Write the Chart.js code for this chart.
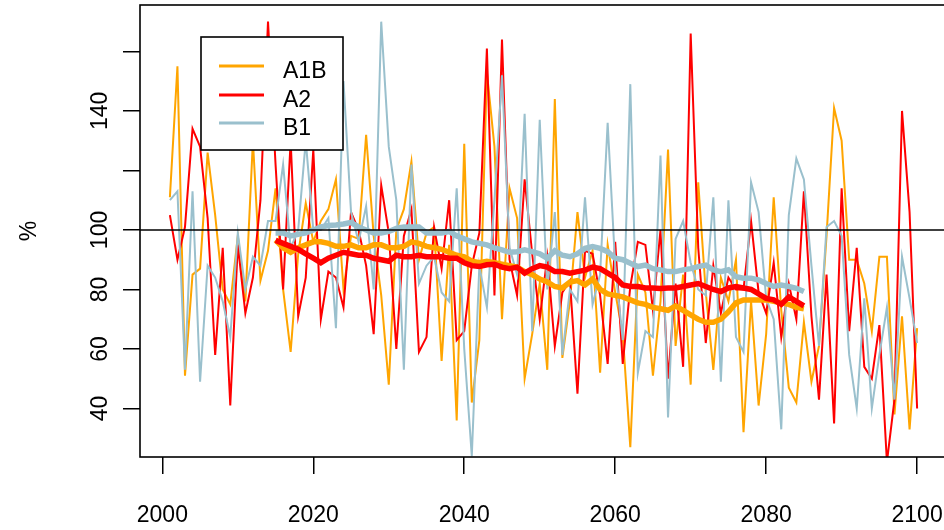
<!DOCTYPE html>
<html>
<head>
<meta charset="utf-8">
<script src="https://cdn.jsdelivr.net/npm/chart.js@4.4.1/dist/chart.umd.min.js"></script>
<style>
html, body { margin: 0; padding: 0; background: #fff; overflow: hidden; }
canvas { display: block; }
</style>
</head>
<body>
<canvas id="precipChart" width="947" height="530"></canvas>
<script>
// annual values, 2001-2100 (% of reference)
var firstYear = 2001;
var a1b = [111, 155, 51, 85, 87, 126, 105, 80, 75, 98, 76, 130, 83, 93, 114, 80, 59, 92, 109, 96,
           103, 107, 117, 80, 98, 97, 132, 98, 78, 48, 100, 107, 123, 90, 99, 101, 56, 95, 36, 129,
           42, 63, 153, 128, 70, 114, 104, 50, 65, 82, 53, 144, 57, 76, 106, 84, 93, 52, 95, 79,
           65, 27, 85, 79, 51, 76, 127, 61, 85, 48, 116, 79, 53, 84, 76, 90, 32, 76, 41, 65,
           111, 73, 47, 42, 69, 49, 61, 98, 141, 130, 90, 90, 82, 66, 91, 91, 38, 71, 33, 67];
var a2 = [105, 90, 101, 134, 128, 104, 58, 94, 41, 95, 72, 84, 110, 170, 122, 80, 130, 71, 84, 127,
          70, 86, 84, 74, 106, 100, 88, 65, 115, 99, 60, 98, 107, 59, 64, 101, 87, 110, 63, 66,
          88, 99, 161, 78, 164, 90, 78, 117, 92, 70, 91, 61, 79, 83, 45, 93, 92, 78, 55, 96,
          55, 81, 96, 95, 73, 100, 50, 82, 54, 166, 94, 62, 88, 72, 84, 80, 80, 103, 79, 72,
          89, 64, 82, 70, 113, 71, 43, 85, 35, 114, 66, 94, 54, 50, 68, 22, 43, 140, 106, 40];
var b1 = [110, 113, 53, 113, 49, 88, 84, 76, 64, 99, 80, 91, 88, 103, 103, 122, 94, 100, 130, 100,
          100, 104, 67, 150, 106, 96, 108, 80, 170, 128, 110, 53, 122, 82, 88, 91, 79, 76, 114, 60,
          24, 88, 74, 110, 152, 94, 85, 139, 66, 137, 80, 106, 58, 80, 76, 111, 75, 85, 136, 88,
          63, 149, 52, 66, 64, 125, 37, 97, 103, 89, 80, 78, 111, 49, 110, 64, 59, 116, 106, 77,
          70, 33, 105, 124, 117, 88, 61, 101, 103, 98, 58, 40, 77, 40, 58, 74, 43, 91, 77, 62];

// 30-year running means, 2015-2085
var firstMeanYear = 2015;
var a1bMean = [96.6, 94, 92.5, 94, 95, 96, 96, 95.5, 94.5, 94.5, 95, 94, 94, 95, 95, 94, 94, 94.5, 96, 95.5,
               94.5, 94, 93.5, 92.5, 91.5, 91, 89.5, 89, 89.5, 89, 88.5, 88, 87.5, 86, 85, 83.5, 82.5, 81, 80.5, 82.5,
               83, 81.5, 83.5, 80, 78.5, 78, 77.5, 76.5, 75.5, 75, 74, 73.5, 73, 74.5, 73, 71.5, 70, 69, 69, 70,
               72.5, 75.5, 76.5, 76.5, 76.5, 76.5, 76, 75.5, 75, 74, 73.5];
var a2Mean = [96.5, 95.5, 94.5, 93.5, 92, 90.5, 89, 90.5, 91.5, 92.5, 92, 91.5, 91.5, 90.5, 90, 89.5, 91.5, 91, 91, 91.5,
              91, 91, 91, 90.5, 90.5, 89, 88, 87.7, 88.3, 88.5, 87.5, 87, 87.5, 85.5, 87, 88, 87.5, 86, 86, 85.5,
              86, 86.5, 87.5, 87, 85.5, 84, 81.5, 81, 81, 80.5, 80.5, 80.3, 80.5, 80.5, 81, 81.5, 82, 81, 80, 79.3,
              80.5, 81, 80.5, 80, 78.5, 77, 76.5, 75, 77.5, 76, 74.5];
var b1Mean = [99, 99, 98, 98.5, 99, 100, 101, 101.5, 101.7, 102, 102.5, 101, 100, 99, 99, 99.5, 100.5, 101, 101, 101,
              99, 99, 99, 99.5, 98, 97, 96, 95.5, 95, 94, 93.3, 92.5, 92.7, 93.3, 92.7, 92, 90.5, 93, 91.5, 91,
              92, 93.8, 94.4, 93.8, 92.7, 90.5, 90, 88.8, 87.7, 88.2, 87, 86.6, 86, 86, 86.6, 87, 87.7, 88.2, 86.6, 86,
              86.6, 84.3, 83.8, 83.8, 83.2, 82, 81, 81.5, 81, 80.4, 79.3];

var xTicks = [2000, 2020, 2040, 2060, 2080, 2100];
var yTicks = [40, 60, 80, 100, 120, 140, 160];
var yLabelled = [40, 60, 80, 100, 140];
var refLevel = 100;

var FONT = 'Liberation Sans, Arial, Helvetica, sans-serif';

function toPoints(start, values) {
    return values.map(function (v, i) { return { x: start + i, y: v }; });
}

function lineSet(label, color, start, values, width, order) {
    return {
        label: label,
        data: toPoints(start, values),
        borderColor: color,
        backgroundColor: color,
        borderWidth: width,
        pointRadius: 0,
        tension: 0,
        fill: false,
        order: order
    };
}

// box, reference line and legend like the R original
var framePlugin = {
    id: 'frame',
    afterDatasetsDraw: function (chart) {
        var ctx = chart.ctx, a = chart.chartArea;
        var y = chart.scales.y.getPixelForValue(refLevel);
        ctx.save();
        ctx.strokeStyle = '#000';
        ctx.lineWidth = 1.6;
        ctx.beginPath();
        ctx.moveTo(a.left, y);
        ctx.lineTo(a.right, y);
        ctx.stroke();
        ctx.strokeRect(a.left, a.top, a.right - a.left, a.bottom - a.top);

        // legend
        var lx = 201, ly = 37, lw = 142, lh = 113;
        ctx.fillStyle = '#fff';
        ctx.fillRect(lx, ly, lw, lh);
        ctx.strokeRect(lx, ly, lw, lh);
        var rows = [66, 95, 123];
        ctx.font = '23px ' + FONT;
        ctx.textAlign = 'left';
        ctx.textBaseline = 'alphabetic';
        chart.data.datasets.slice(0, 3).forEach(function (ds, i) {
            ctx.strokeStyle = ds.borderColor;
            ctx.lineWidth = 3;
            ctx.beginPath();
            ctx.moveTo(219, rows[i]);
            ctx.lineTo(264, rows[i]);
            ctx.stroke();
            ctx.fillStyle = '#000';
            ctx.fillText(ds.label, 283, rows[i] + 12);
        });
        ctx.restore();
    },
    afterDraw: function (chart) {
        var ctx = chart.ctx, sy = chart.scales.y;
        ctx.save();
        ctx.fillStyle = '#000';
        ctx.font = '23px ' + FONT;
        ctx.textAlign = 'center';
        ctx.textBaseline = 'alphabetic';
        sy.ticks.forEach(function (t) {
            if (yLabelled.indexOf(t.value) < 0) return;
            ctx.save();
            ctx.translate(107, sy.getPixelForValue(t.value));
            ctx.rotate(-Math.PI / 2);
            ctx.fillText(String(t.value), 0, 0);
            ctx.restore();
        });
        ctx.translate(36, (chart.chartArea.top + chart.chartArea.bottom) / 2);
        ctx.rotate(-Math.PI / 2);
        ctx.fillText('%', 0, 0);
        ctx.restore();
    }
};

var ctx = document.getElementById('precipChart').getContext('2d');
var precipChart = new Chart(ctx, {
    type: 'line',
    data: {
        datasets: [
            lineSet('A1B', '#FFA500', firstYear, a1b, 2, 6),
            lineSet('A2', '#FF0000', firstYear, a2, 2, 5),
            lineSet('B1', '#9AC0CD', firstYear, b1, 2, 4),
            lineSet('A1B mean', '#FFA500', firstMeanYear, a1bMean, 5.5, 3),
            lineSet('A2 mean', '#FF0000', firstMeanYear, a2Mean, 5.5, 2),
            lineSet('B1 mean', '#9AC0CD', firstMeanYear, b1Mean, 5.5, 1)
        ]
    },
    options: {
        responsive: false,
        animation: false,
        devicePixelRatio: 1,
        layout: { padding: { top: 5, left: 0, right: 0, bottom: 0 } },
        plugins: {
            legend: { display: false },
            tooltip: { enabled: false },
            title: { display: false }
        },
        scales: {
            x: {
                type: 'linear',
                min: 1997.04,
                max: 2103.96,
                afterBuildTicks: function (s) { s.ticks = xTicks.map(function (v) { return { value: v }; }); },
                afterFit: function (s) { s.height = 73; s.paddingLeft = 0; s.paddingRight = 0; },
                grid: { drawOnChartArea: false, drawTicks: true, tickLength: 17, color: '#000', lineWidth: 1.5 },
                border: { display: false },
                ticks: {
                    color: '#000',
                    font: { family: FONT, size: 23 },
                    padding: 28,
                    maxRotation: 0,
                    autoSkip: false,
                    callback: function (v) { return String(v); }
                }
            },
            y: {
                type: 'linear',
                min: 23.7,
                max: 175.6,
                afterBuildTicks: function (s) { s.ticks = yTicks.map(function (v) { return { value: v }; }); },
                afterFit: function (s) { s.width = 140; s.paddingTop = 0; s.paddingBottom = 0; },
                grid: { drawOnChartArea: false, drawTicks: true, tickLength: 17, color: '#000', lineWidth: 1.5 },
                border: { display: false },
                ticks: { display: false }
            }
        }
    },
    plugins: [framePlugin]
});
</script>
</body>
</html>
